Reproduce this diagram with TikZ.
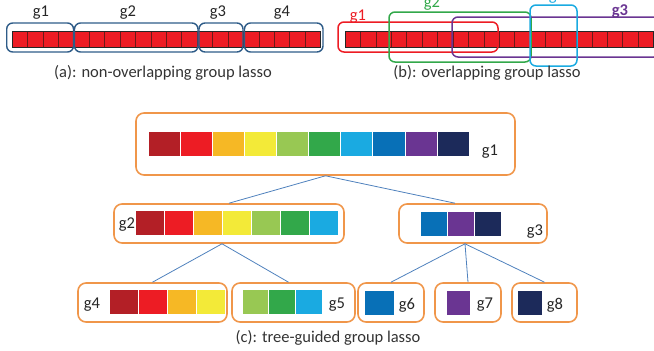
\documentclass[tikz,border=0pt]{standalone}
\usepackage{fontspec}
\setmainfont{Carlito}
\definecolor{gDarkRed}{HTML}{B31F26}
\definecolor{gRed}{HTML}{ED1C24}
\definecolor{gOrange}{HTML}{F6B825}
\definecolor{gYellow}{HTML}{F3EA38}
\definecolor{gLime}{HTML}{98C853}
\definecolor{gGreen}{HTML}{32A84A}
\definecolor{gCyan}{HTML}{1AAAE1}
\definecolor{gBlue}{HTML}{0870B7}
\definecolor{gPurple}{HTML}{6A3592}
\definecolor{gNavy}{HTML}{1C2A5A}
\definecolor{boxBlue}{HTML}{2E5C88}
\definecolor{boxOrange}{HTML}{F0964A}
\definecolor{edgeBlue}{HTML}{4F81BD}
\definecolor{cellEdge}{HTML}{6A1A1A}
\def\colstrip(#1,#2)[#3]#4{\foreach \c [count=\k from 0] in {#4} \fill[\c, draw=white, line width=0.6pt] ({#1+\k*#3},#2) rectangle +(#3,25);}
\def\cellbar(#1){\foreach \k in {0,...,19} \draw[fill=gRed, draw=cellEdge, line width=0.6pt] ({#1+\k*15.43},31) rectangle +(15.43,16);
  \draw[line width=0.8pt, color=black!85] (#1,31) rectangle ({#1+20*15.43},47);}
\begin{document}
\begin{tikzpicture}[x=1pt, y=-1pt, font=\fontsize{16.5}{19}\selectfont,
  lbl/.style={inner sep=0pt, text=black!85},
  caption/.style={inner sep=0pt, text=black!80},
  abox/.style={draw=boxBlue, line width=1.4pt, rounded corners=6pt},
  obox/.style={line width=1.5pt, rounded corners=6pt},
  tbox/.style={draw=boxOrange, line width=1.6pt, rounded corners=8pt, inner sep=0pt, minimum height=39pt},
  edge/.style={draw=edgeBlue, line width=0.8pt}]
			\clip (0,0) rectangle (654,351);
			
			%%%%% (a) %%%%%
			\cellbar(12)
			\draw[abox] (6.7,23) rectangle (73.5,52);
			\draw[abox] (74.5,23) rectangle (198,52);
			\draw[abox] (199,23) rectangle (243,52);
			\draw[abox] (244.5,23) rectangle (323,52);
			\node[lbl] (ag1) at (41,13) {g1};
			\node[lbl] (ag2) at (128,13) {g2};
			\node[lbl] (ag3) at (218,13) {g3};
			\node[lbl] (ag4) at (282,13) {g4};
			\node[caption] (capA) at (163,73) {(a): non-overlapping group lasso};
			
			%%%%% (b) %%%%%
			\cellbar(345)
			\draw[obox, draw=gRed] (338,22) rectangle (498,52);
			\draw[obox, draw=gGreen] (389,12) rectangle (531,62);
			\draw[obox, draw=gPurple] (452,17) rectangle (660,57);
			\draw[obox, draw=gCyan] (530,5) rectangle (577,66);
			\node[lbl, text=gRed] (bg1) at (358,17) {g1};
			\node[lbl, text=gGreen] (bg2) at (432,4) {g2};
			\node[lbl, text=gCyan] (bg4) at (557,-3) {g4};
			\node[lbl, text=gPurple, font=\fontsize{16.5}{19}\selectfont\bfseries] (bg3) at (620,11) {g3};
			\node[caption] (capB) at (487,73) {(b): overlapping group lasso};
			
			%%%%% (c) %%%%%
			\node[tbox, minimum width=379pt, minimum height=62pt] (g1) at (325.5,144) {};
			\node[tbox, minimum width=230pt] (g2) at (229,223.5) {};
			\node[tbox, minimum width=148pt] (g3) at (473,223.5) {};
			\node[tbox, minimum width=149pt] (g4) at (152.5,302.5) {};
			\node[tbox, minimum width=123pt] (g5) at (293.5,302.5) {};
			\node[tbox, minimum width=66pt] (g6) at (391,302.5) {};
			\node[tbox, minimum width=66pt] (g7) at (468,302.5) {};
			\node[tbox, minimum width=65pt] (g8) at (544.5,302.5) {};
			
			\colstrip(148,131)[32.1]{gDarkRed,gRed,gOrange,gYellow,gLime,gGreen,gCyan,gBlue,gPurple,gNavy}
			\colstrip(135,210)[29]{gDarkRed,gRed,gOrange,gYellow,gLime,gGreen,gCyan}
			\colstrip(420,211)[27]{gBlue,gPurple,gNavy}
			\colstrip(109,289)[29]{gDarkRed,gRed,gOrange,gYellow}
			\colstrip(242,289)[26.7]{gLime,gGreen,gCyan}
			\colstrip(364,290)[30]{gBlue}
			\colstrip(446,290)[24]{gPurple}
			\colstrip(517,290)[25]{gNavy}
			
			\node[lbl] (lg1) at (490,152) {g1};
			\node[lbl] (lg2) at (127,225) {g2};
			\node[lbl] (lg3) at (535,232) {g3};
			\node[lbl] (lg4) at (92,305) {g4};
			\node[lbl] (lg5) at (337,305) {g5};
			\node[lbl] (lg6) at (407,305) {g6};
			\node[lbl] (lg7) at (485,305) {g7};
			\node[lbl] (lg8) at (555,305) {g8};
			
			\draw[edge] (g1.south) -- (g2.north);
			\draw[edge] (g1.south) -- ([xshift=-18pt]g3.north);
			\draw[edge] ([xshift=-7pt]g2.south) -- (g4.north);
			\draw[edge] ([xshift=-7pt]g2.south) -- ([xshift=-5pt]g5.north);
			\draw[edge] ([xshift=-8pt]g3.south) -- (g6.north);
			\draw[edge] ([xshift=-8pt]g3.south) -- (g7.north);
			\draw[edge] ([xshift=-8pt]g3.south) -- (g8.north);
			
			\node[caption] (capC) at (328,338) {(c): tree-guided group lasso};
\end{tikzpicture}
\end{document}
